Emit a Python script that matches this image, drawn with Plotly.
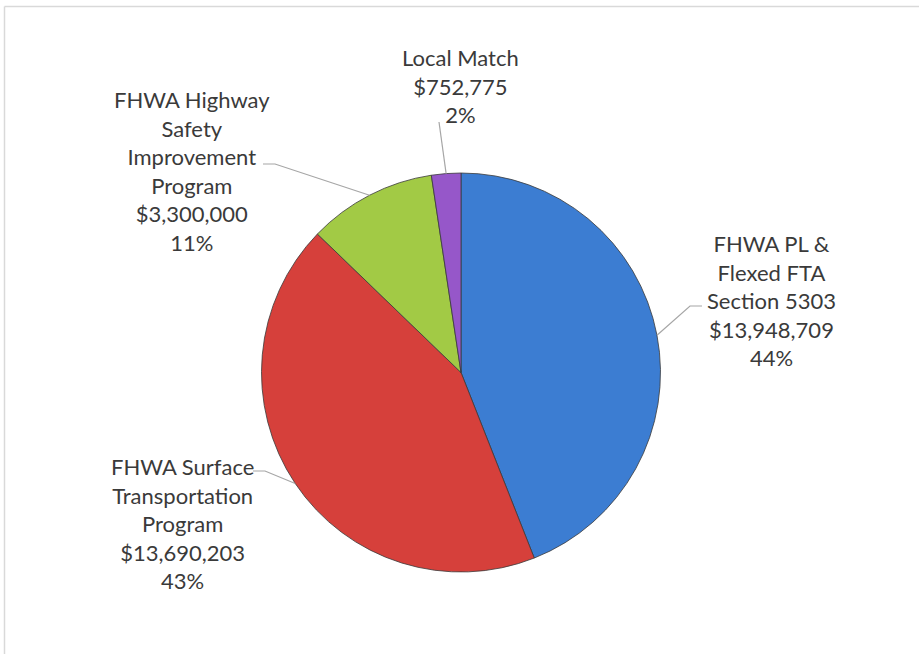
import math
import plotly.graph_objects as go

# ---- data ----
categories = [
    "FHWA PL &<br>Flexed FTA<br>Section 5303",
    "FHWA Surface<br>Transportation<br>Program",
    "FHWA Highway<br>Safety<br>Improvement<br>Program",
    "Local Match",
]
values = [13948709, 13690203, 3300000, 752775]
pct_labels = ["44%", "43%", "11%", "2%"]
colors = ["#3C7DD2", "#D6403B", "#A2CA45", "#9657C9"]

W, H = 919, 654
# pie geometry (pixels)
cx, cy, R = 461, 372.5, 199.5

def px(x):
    return x / W

def py(y):
    return 1 - y / H

fig = go.Figure()
fig.add_trace(go.Pie(
    values=values,
    labels=[c.replace("<br>", " ") for c in categories],
    sort=False,
    direction="clockwise",
    rotation=0,
    textinfo="none",
    hoverinfo="label+value+percent",
    marker=dict(colors=colors, line=dict(color="#3a3a3a", width=0.8)),
    domain=dict(x=[px(cx - R), px(cx + R)], y=[py(cy + R), py(cy - R)]),
    showlegend=False,
))

# label boxes: (center x, center y) in pixels, and leader elbow
label_pos = [(771, 300), (182, 523), (192, 171), (460, 86)]
elbows = [
    [(702, 306), (690, 306)],
    [(253, 471), (265, 471)],
    [(263, 164), (275, 164)],
    [(439, 122)],
]

total = sum(values)
cum = 0
annotations = []
shapes = []
for i, v in enumerate(values):
    mid = (cum + v / 2) / total * 2 * math.pi
    cum += v
    ex = cx + R * math.sin(mid)
    ey = cy - R * math.cos(mid)
    pts = elbows[i] + [(ex, ey)]
    path = "M " + " L ".join(f"{px(x):.5f},{py(y):.5f}" for x, y in pts)
    shapes.append(dict(type="path", path=path, xref="paper", yref="paper",
                       line=dict(color="#A6A6A6", width=1.2)))
    text = f"{categories[i]}<br>${v:,.0f}<br>{pct_labels[i]}"
    lx, ly = label_pos[i]
    annotations.append(dict(
        x=px(lx), y=py(ly), xref="paper", yref="paper", text=text,
        showarrow=False, align="center", xanchor="center", yanchor="middle",
        font=dict(family="Lato, Open Sans, sans-serif", size=22, color="#3A3A3A"),
    ))

# chart frame (top and left edges visible)
frame = dict(color="#D9D9D9", width=1.5)
shapes.append(dict(type="line", xref="paper", yref="paper",
                   x0=px(4.5), y0=py(6.5), x1=1, y1=py(6.5), line=frame, layer="below"))
shapes.append(dict(type="line", xref="paper", yref="paper",
                   x0=px(4.5), y0=py(6.5), x1=px(4.5), y1=0, line=frame, layer="below"))

fig.update_layout(
    width=W, height=H,
    margin=dict(l=0, r=0, t=0, b=0),
    paper_bgcolor="white",
    plot_bgcolor="white",
    annotations=annotations,
    shapes=shapes,
)

fig.write_html("out.html", config={"displayModeBar": False},
               post_script="document.body.style.margin='0px';document.body.style.overflow='hidden';")
